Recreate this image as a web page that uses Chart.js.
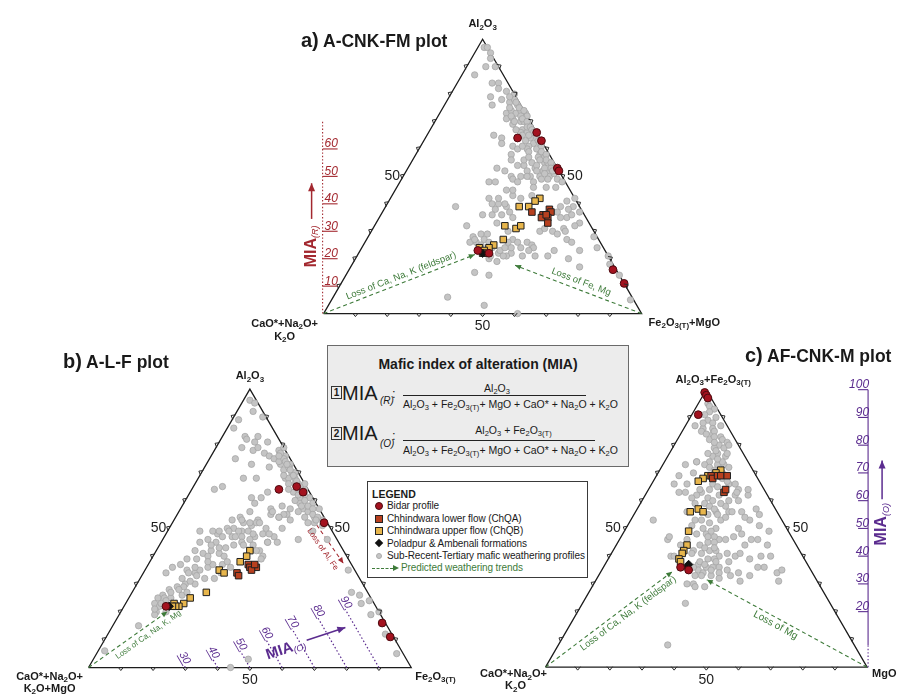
<!DOCTYPE html>
<html>
<head>
<meta charset="utf-8">
<title>Mafic index of alteration – ternary diagrams</title>
<script src="https://cdn.jsdelivr.net/npm/chart.js@4.4.1/dist/chart.umd.min.js"></script>
<style>
  html, body { margin: 0; padding: 0; background: #fff; }
  #page { position: relative; width: 903px; height: 700px; overflow: hidden;
          font-family: "Liberation Sans", Arial, Helvetica, sans-serif; color: #1a1a1a; }
  canvas.plot { position: absolute; left: 0; top: 0; z-index: 1; }
  .title { position: absolute; z-index: 2; font-weight: bold; font-size: 17.5px; line-height: 20px; white-space: nowrap; }
  .title .tag { font-size: 20px; }
  sub { font-size: 72%; vertical-align: -0.28em; line-height: 0; }
  #miaBox { position: absolute; z-index: 2; left: 327px; top: 345px; width: 302px; height: 122px;
            background: #ececec; border: 1px solid #6a6a6a; box-sizing: border-box; }
  #miaBox div, #miaBox span { position: absolute; white-space: nowrap; }
  #miaBox .mt { left: 0; width: 100%; top: 9px; text-align: center; font-weight: bold; font-size: 14px; line-height: 18px; }
  #miaBox .nb { left: 3px; width: 9px; height: 11px; border: 1px solid #333; font-size: 10px; line-height: 11px;
                text-align: center; font-weight: bold; }
  #miaBox .mia { left: 14px; font-size: 20px; line-height: 22px; }
  #miaBox .sb { left: 52px; font-size: 10px; line-height: 12px; font-style: italic; }
  #miaBox .colon { left: 64px; font-size: 13px; line-height: 14px; }
  #miaBox .num { text-align: center; font-size: 10.5px; line-height: 12px; }
  #miaBox .bar { left: 75px; height: 1px; background: #222; }
  #miaBox .den { left: 75px; font-size: 10.5px; line-height: 12px; }
  #legend { position: absolute; z-index: 2; left: 367px; top: 481px; width: 221px; height: 97px;
            background: #fff; border: 1px solid #3a3a3a; box-sizing: border-box; }
  #legend div, #legend span { position: absolute; white-space: nowrap; }
  #legend .lt { left: 4px; top: 6px; font-weight: bold; font-size: 10.5px; line-height: 12px; }
  #legend .li { left: 19px; font-size: 10px; line-height: 12px; letter-spacing: -0.1px; }
  #legend .mk { box-sizing: border-box; }
</style>
</head>
<body>
<div id="page">
  <canvas id="plotA" class="plot" width="903" height="700"></canvas>
  <canvas id="plotB" class="plot" width="903" height="700"></canvas>
  <canvas id="plotC" class="plot" width="903" height="700"></canvas>

  <div class="title" style="left:301px; top:30px"><span class="tag">a)</span> A-CNK-FM plot</div>
  <div class="title" style="left:63px; top:351px"><span class="tag">b)</span> A-L-F plot</div>
  <div class="title" style="left:745px; top:345px"><span class="tag">c)</span> AF-CNK-M plot</div>

  <div id="miaBox">
    <div class="mt">Mafic index of alteration (MIA)</div>
    <div class="nb" style="top:40px">1</div>
    <div class="mia" style="top:36px">MIA</div>
    <div class="sb" style="top:49px">(R)</div>
    <div class="colon" style="top:41px">:</div>
    <div class="num" style="left:75px; width:188px; top:36px">Al<sub>2</sub>O<sub>3</sub></div>
    <div class="bar" style="top:49px; width:183px"></div>
    <div class="den" style="top:52px">Al<sub>2</sub>O<sub>3</sub> + Fe<sub>2</sub>O<sub>3(T)</sub>+ MgO + CaO* + Na<sub>2</sub>O + K<sub>2</sub>O</div>
    <div class="nb" style="top:81px">2</div>
    <div class="mia" style="top:76px">MIA</div>
    <div class="sb" style="top:92px">(O)</div>
    <div class="colon" style="top:83px">:</div>
    <div class="num" style="left:75px; width:221px; top:78px">Al<sub>2</sub>O<sub>3</sub> + Fe<sub>2</sub>O<sub>3(T)</sub></div>
    <div class="bar" style="top:94px; width:192px"></div>
    <div class="den" style="top:98px">Al<sub>2</sub>O<sub>3</sub> + Fe<sub>2</sub>O<sub>3(T)</sub>+ MgO + CaO* + Na<sub>2</sub>O + K<sub>2</sub>O</div>
  </div>

  <div id="legend">
    <div class="lt">LEGEND</div>
    <span class="mk" style="left:7px; top:20px; width:8px; height:8px; border-radius:50%; background:#a3121f; border:1px solid #4d0a10"></span>
    <div class="li" style="top:18px">Bidar profile</div>
    <span class="mk" style="left:7px; top:33px; width:8px; height:8px; background:#b8401f; border:1px solid #222"></span>
    <div class="li" style="top:31px">Chhindwara lower flow (ChQA)</div>
    <span class="mk" style="left:7px; top:45px; width:8px; height:8px; background:#e8b64c; border:1px solid #222"></span>
    <div class="li" style="top:43px">Chhindwara upper flow (ChQB)</div>
    <span class="mk" style="left:8px; top:58px; width:6px; height:6px; background:#111; transform:rotate(45deg)"></span>
    <div class="li" style="top:56px">Poladpur &amp; Ambenali formations</div>
    <span class="mk" style="left:8px; top:71px; width:6px; height:6px; border-radius:50%; background:#c6c6c6; border:1px solid #ababab"></span>
    <div class="li" style="top:68px">Sub-Recent-Tertiary mafic weathering profiles</div>
    <span class="mk" style="left:4px; top:86px; width:21px; height:0; border-top:1.2px dashed #3e7b3a"></span>
    <span class="mk" style="left:25px; top:83px; width:0; height:0; border-left:6px solid #3e7b3a; border-top:3px solid transparent; border-bottom:3px solid transparent"></span>
    <div class="li" style="left:33px; top:80px; color:#3e7b3a">Predicted weathering trends</div>
  </div>
</div>

<script>
// ---------------------------------------------------------------------------
// Compositions, all in molar %. Each point is [top apex component, right apex component];
// the left apex component is the remainder to 100.
// ---------------------------------------------------------------------------

// a) A-CNK-FM : [Al2O3, Fe2O3(T)+MgO]
const acnkGrey = [
  [97,2],[97,3],[95,5],[93,6],[90,6],[87,4],[90,9],[84,11],[84,13],[82,14],[79,13],[81,17],[78,17],[76,15],
  [80,20],[77,20],[78,21],[76,23],[73,21],[74,22],[73,24],[74,25],[73,27],[72,26],[71,24],[70,27],[70,28],
  [69,30],[67,29],[69,25],[65,21],[64,24],[66,29],[66,31],[64,33],[62,35],[61,34],[60,34],[60,37],[58,39],
  [57,39],[57,41],[55,42],[55,43],[54,45],[61,29],[60,31],[58,30],[56,31],[53,28],[54,36],[52,38],[53,40],
  [52,43],[51,45],[50,34],[50,37],[50,40],[50,43],[50,46],[48,28],[48,30],[49,35],[48,37],[50,39],[48,42],
  [49,44],[49,46],[51,47],[49,49],[48,51],[46,43],[46,47],[46,50],[45,35],[43,38],[42,41],[43,44],[42,31],
  [40,33],[40,35],[38,35],[39,38],[37,40],[36,38],[36,35],[36,32],[35,42],[39,22],[32,29],[29,35],[29,37],
  [26,35],[26,33],[33,38],[30,43],[27,46],[26,48],[26,51],[25,53],[24,54],[21,56],[21,52],[22,48],[21,47],
  [22,44],[19,45],[20,42],[23,44],[24,47],[30,53],[31,54],[30,57],[29,59],[31,60],[30,61],[35,59],[35,57],
  [37,55],[39,55],[41,56],[39,59],[42,58],[38,58],[36,60],[37,62],[33,64],[32,63],[27,63],[26,65],[23,69],
  [23,61],[21,60],[20,67],[17,72],[28,71],[24,74],[21,79],[18,81],[14,86],[5,94],[15,40],[14,45],[6,36],
  [3,49],[0,61],[28,33],[27,34],[27,37],[25,37],[26,39],[24,41],[24,45],[21,46],[21,42],[26,45],[24,50],
  [23,53],[42,34],[40,37],[45,37],[52,31],[54,34],[56,35],[62,25],[71,22],
  [79,19],[77,22],[75,24],[74,26],[72,28],[71,27],[70,29],[68,30],[68,31],[67,32],[66,33],[65,32],[64,35],
  [63,36],[62,37],[61,38],[59,39],[58,41],[56,42],[56,40],[55,44],[53,45],[53,43],[52,46],[51,44],[72,23],
  [75,21],[70,25],[67,27],[65,30],[63,32],[61,32],[59,35],[57,36],[55,38],[54,40],[52,41]
];
const acnkBidar = [[64,29],[66,34],[63,37],[53,47],[52,48],[16,83],[11,89],[23,37],[22,41]];
const acnkChQA = [[37,47],[36,51],[36,52],[38,52],[37,53],[35,53],[33,54],[35,51],[36,52]];
const acnkChQB = [[42,47],[41,46],[39,42],[39,45],[32,41],[31,45],[32,46],[27,43],[25,41],[24,40],[24,37],[23,39],[22,40],[22,39]];
const acnkPoladpur = [[22,39]];

// b) A-L-F : [Al2O3, Fe2O3(T)]
const alfGrey = [
  [96,2],[95,4],[92,5],[90,9],[89,2],[86,2],[83,7],[82,8],[81,11],[83,11],[81,15],[79,8],[78,12],[79,13],
  [77,16],[76,18],[75,8],[73,14],[72,20],[68,14],[68,18],[65,9],[64,7],[78,20],[79,21],[76,23],[75,20],
  [73,23],[71,25],[73,26],[70,28],[68,27],[68,30],[66,32],[63,32],[64,35],[61,35],[61,38],[59,40],[57,38],
  [57,43],[54,43],[53,46],[57,34],[55,34],[55,33],[54,32],[55,29],[61,23],[61,20],[63,24],[59,22],[56,22],
  [54,20],[53,18],[52,22],[51,25],[53,26],[50,30],[57,28],[49,23],[48,16],[49,10],[74,22],[75,23],[68,28],
  [63,34],[66,34],[70,29],[66,31],[62,36],[59,36],[56,40],[52,44],[54,40],[52,42],[49,14],[49,16],[50,18],
  [50,20],[49,22],[47,24],[49,25],[47,28],[52,26],[48,30],[47,21],[47,18],[45,17],[46,14],[45,12],[42,12],
  [41,15],[42,17],[41,20],[43,21],[44,23],[45,25],[44,29],[42,32],[40,34],[45,33],[47,34],[45,36],[50,35],
  [53,36],[39,14],[39,11],[37,10],[36,8],[35,13],[34,16],[35,17],[36,19],[37,20],[37,23],[36,26],[34,24],
  [32,23],[32,20],[30,18],[30,15],[32,13],[29,13],[28,11],[26,10],[25,9],[23,9],[22,11],[25,13],[26,16],
  [27,17],[20,14],[20,11],[19,11],[34,7],[46,42],[49,45],[46,51],[35,63],[27,68],[26,71],[23,73],[19,78],
  [20,80],[12,86],[5,93],[15,8],[6,2],[0,44],[3,48],[53,21],[52,24],[52,27],[48,32],[45,33],[42,31],
  [39,34],[47,22],[49,19],[56,29],[58,31],[54,32],[24,75],
  [77,21],[74,24],[72,26],[71,27],[69,29],[67,31],[65,33],[64,33],[62,34],[60,37],[58,39],[57,41],[55,42],
  [54,44],[53,44],[51,47],[76,21],[73,25],[69,26],[66,29],[64,30],[60,34],[58,37],[56,37],
  [44,16],[43,19],[40,17],[38,18],[36,15],[34,14],[33,17],[31,16],[29,15],[28,14],[27,12],[25,11],[24,12],
  [23,11],[21,10],[40,22],[38,24],[46,27],[44,26],[48,27]
];
const alfBidar = [[64,27],[65,32],[63,35],[52,47],[16,83],[11,88],[22,13]];
const alfChQA = [[34,29],[33,30],[37,31],[36,32],[36,34],[35,33],[37,33]];
const alfChQB = [[42,29],[40,29],[38,28],[35,23],[34,25],[27,23],[25,19],[23,18],[22,17],[23,15],[22,16],[22,15]];
const alfPoladpur = [[22,14]];

// c) AF-CNK-M : [Al2O3+Fe2O3(T), MgO]
const afmGrey = [
  [95,3],[94,4],[93,6],[89,6],[90,8],[88,8],[87,11],[86,6],[84,10],[83,13],[82,14],[81,16],[80,14],[77,15],
  [79,16],[76,18],[76,14],[77,12],[74,14],[73,13],[73,17],[73,19],[72,21],[66,24],[66,26],[66,19],[64,19],
  [63,17],[62,16],[62,23],[62,28],[73,7],[74,10],[70,11],[66,7],[66,11],[63,12],[56,29],[58,27],[59,25],
  [56,25],[55,23],[53,22],[53,20],[51,20],[50,28],[53,28],[60,27],[64,28],[62,32],[56,33],[53,37],[50,35],
  [48,37],[55,39],[51,41],[49,45],[46,43],[44,47],[46,41],[44,40],[47,35],[46,33],[46,31],[47,29],[48,26],
  [48,23],[45,28],[44,26],[42,25],[41,28],[42,30],[42,32],[40,34],[41,36],[40,39],[41,40],[39,44],[40,47],
  [36,50],[34,55],[31,57],[34,43],[35,39],[36,36],[39,33],[39,31],[37,29],[35,30],[34,32],[33,35],[33,32],
  [30,31],[30,29],[23,32],[40,19],[46,15],[53,7],[8,34],[36,28],[33,30],[36,32],[36,34],[41,25],[46,21],
  [44,20],[47,15],[40,20],[54,29],[56,30],[59,17],[87,3],[85,6],[84,8],[82,10],[79,13],[77,18],[74,18],
  [74,10],[69,7],[63,10],[61,15],[64,16],[63,28],[64,31],[60,30],[59,20],[56,16],[57,37],[54,35],[40,50],
  [35,56],[36,48],[33,47],[31,45],[33,41],[38,38],[29,32],[29,35],
  [92,5],[91,4],[88,5],[86,9],[85,10],[83,11],[81,12],[80,17],[78,14],[75,16],[72,15],[71,17],[70,20],
  [68,21],[67,23],[65,21],[61,20],[60,22],[58,22],[57,24],[55,26],[52,25],[50,24],[49,27],[47,27],[45,30],
  [43,28],[43,31],[38,29],[37,31],[38,34],[35,34],[34,37],[32,38]
];
const afmBidar = [[99,0],[98,1],[97,2],[91,2],[36,24],[35,27]];
const afmChQA = [[69,17],[68,18],[69,19],[69,20],[69,22],[63,24],[64,24]];
const afmChQB = [[71,19],[70,18],[69,16],[68,15],[67,14],[56,17],[57,19],[56,21],[49,20],[44,22],[42,22],[41,22],[39,22],[38,23]];
const afmPoladpur = [[37,26],[36,26]];

// Axis ticks and MIA scales
const edgeTicks = [10, 20, 30, 40, 50, 60, 70, 80, 90];
const miaRTicks = [10, 20, 30, 40, 50, 60];
const miaOTicks = [20, 30, 40, 50, 60, 70, 80, 90, 100];
const miaOContours = [30, 40, 50, 60, 70, 80, 90];
const miaOContourReach = [1, 3, 6, 10, 14, 18, 21];   // Al2O3 % reached by each dotted contour

// ---------------------------------------------------------------------------
const FONT = '"Liberation Sans", Arial, Helvetica, sans-serif';
const SQ = Math.sqrt(3) / 2;
const W = 903, H = 700;
const GREEN = '#3e7b3a', MAROON = '#a3282f', PURPLE = '#5b2c8f';

// ternary composition -> cartesian (triangle side = 100 units)
const tern = (top, right) => ({ x: right + top / 2, y: top * SQ });
const pts = arr => arr.map(([t, r]) => tern(t, r));

function richParts(str) {
  return str.split(/(\{[^}]*\})/).filter(s => s.length)
    .map(s => s[0] === '{' ? { t: s.slice(1, -1), sub: true } : { t: s, sub: false });
}
function drawRich(ctx, str, x, y, o) {
  const size = o.size || 11;
  const mainFont = `${o.italic ? 'italic ' : ''}${o.bold ? 'bold ' : ''}${size}px ${FONT}`;
  const subFont = o.subFont || `${o.bold ? 'bold ' : ''}${Math.round(size * 0.72)}px ${FONT}`;
  const parts = richParts(str);
  let w = 0;
  parts.forEach(p => { ctx.font = p.sub ? subFont : mainFont; p.w = ctx.measureText(p.t).width; w += p.w; });
  let cx = o.align === 'center' ? x - w / 2 : o.align === 'right' ? x - w : x;
  ctx.fillStyle = o.color || '#1a1a1a';
  ctx.textAlign = 'left';
  ctx.textBaseline = 'middle';
  parts.forEach(p => {
    ctx.font = p.sub ? subFont : mainFont;
    ctx.fillText(p.t, cx, y + (p.sub ? (o.subDrop != null ? o.subDrop : size * 0.32) : 0));
    cx += p.w;
  });
}
function arrowHead(ctx, a, b, color, len, half) {
  const ang = Math.atan2(b.y - a.y, b.x - a.x);
  const c = Math.cos(ang), s = Math.sin(ang);
  ctx.fillStyle = color;
  ctx.beginPath();
  ctx.moveTo(b.x, b.y);
  ctx.lineTo(b.x - len * c + half * s, b.y - len * s - half * c);
  ctx.lineTo(b.x - len * c - half * s, b.y - len * s + half * c);
  ctx.closePath();
  ctx.fill();
}
function arrow(ctx, a, b, color, width) {
  ctx.strokeStyle = color; ctx.lineWidth = width; ctx.setLineDash([]);
  ctx.beginPath(); ctx.moveTo(a.x, a.y); ctx.lineTo(b.x, b.y); ctx.stroke();
  arrowHead(ctx, a, b, color, 8, 3.5);
}

function decorPlugin(cfg) {
  return {
    id: 'ternaryDecor',
    afterDatasetsDraw(chart) {
      const ctx = chart.ctx, sx = chart.scales.x, sy = chart.scales.y;
      const P = (t, r) => { const q = tern(t, r); return { x: sx.getPixelForValue(q.x), y: sy.getPixelForValue(q.y) }; };
      ctx.save();

      // chevron ticks on the three edges
      ctx.strokeStyle = '#2a2a2a'; ctx.lineWidth = 1; ctx.setLineDash([]);
      edgeTicks.forEach(v => {
        [[P(0, v), 0, 1], [P(v, 0), -SQ, -0.5], [P(v, 100 - v), SQ, -0.5]].forEach(([p, nx, ny]) => {
          const tx = -ny, ty = nx;
          ctx.beginPath();
          ctx.moveTo(p.x + tx * 2.8 - nx * 0.5, p.y + ty * 2.8 - ny * 0.5);
          ctx.lineTo(p.x + nx * 3, p.y + ny * 3);
          ctx.lineTo(p.x - tx * 2.8 - nx * 0.5, p.y - ty * 2.8 - ny * 0.5);
          ctx.stroke();
        });
      });

      // 50 % labels
      ctx.fillStyle = '#1e1e1e'; ctx.font = `14px ${FONT}`; ctx.textBaseline = 'middle';
      const mL = P(50, 0), mR = P(50, 50), mB = P(0, 50);
      ctx.textAlign = 'right'; ctx.fillText('50', mL.x - cfg.fifty[0], mL.y);
      ctx.textAlign = 'left'; ctx.fillText('50', mR.x + cfg.fifty[1], mR.y);
      ctx.textAlign = 'center'; ctx.fillText('50', mB.x, mB.y + 13);

      // apex labels
      const corner = { top: P(100, 0), left: P(0, 0), right: P(0, 100) };
      cfg.corners.forEach(c => {
        const p = corner[c.at];
        drawRich(ctx, c.text, p.x + c.dx, p.y + c.dy, { size: 11, bold: true, align: c.align });
      });

      // predicted weathering trends: arrow heads and captions
      cfg.trends.forEach(tr => {
        const a = P(tr.from[0], tr.from[1]), b = P(tr.to[0], tr.to[1]);
        arrowHead(ctx, a, b, tr.color, 6, 2.6);
        let ang = Math.atan2(b.y - a.y, b.x - a.x);
        if (ang > Math.PI / 2) ang -= Math.PI;
        if (ang < -Math.PI / 2) ang += Math.PI;
        const cx = a.x + (b.x - a.x) * tr.at, cy = a.y + (b.y - a.y) * tr.at;
        ctx.save();
        ctx.translate(cx, cy); ctx.rotate(ang);
        ctx.font = `${tr.size}px ${FONT}`; ctx.fillStyle = tr.color;
        ctx.textAlign = 'center'; ctx.textBaseline = 'middle';
        ctx.fillText(tr.text, 0, tr.offset);
        ctx.restore();
      });

      // MIA(O) contour labels (A-L-F)
      if (cfg.contours) {
        miaOContours.forEach((m, i) => {
          const t = miaOContourReach[i] + 2.4;
          const p = P(t, m - t + 1.5);
          ctx.save();
          ctx.translate(p.x, p.y); ctx.rotate(Math.PI / 3);
          ctx.font = `italic 11px ${FONT}`; ctx.fillStyle = PURPLE;
          ctx.textAlign = 'center'; ctx.textBaseline = 'middle';
          ctx.fillText(String(m), 0, 0);
          const w = ctx.measureText(String(m)).width;
          ctx.fillRect(-w / 2, 5, w, 0.8);
          ctx.restore();
        });
        const a = P(cfg.miaArrow.from[0], cfg.miaArrow.from[1]), b = P(cfg.miaArrow.to[0], cfg.miaArrow.to[1]);
        arrow(ctx, a, b, PURPLE, 1.6);
        const ang = Math.atan2(b.y - a.y, b.x - a.x);
        ctx.save();
        ctx.translate(a.x - 22 * Math.cos(ang), a.y - 22 * Math.sin(ang) + 2);
        ctx.rotate(ang);
        drawRich(ctx, 'MIA{(O)}', 0, 0, { size: 15, bold: true, color: PURPLE, align: 'center',
                 subFont: `italic 9px ${FONT}`, subDrop: 4 });
        ctx.restore();
      }

      // vertical MIA scale tied to the top-apex component
      if (cfg.miaAxis) {
        const m = cfg.miaAxis;
        const base = corner[m.corner];
        const ax = base.x + m.dx;
        const yAt = v => P(v, 0).y;
        ctx.strokeStyle = m.color; ctx.lineWidth = 1.1;
        ctx.setLineDash([1.4, 2]);
        ctx.beginPath(); ctx.moveTo(ax, yAt(0)); ctx.lineTo(ax, yAt(m.solidFrom != null ? m.solidFrom : m.top)); ctx.stroke();
        ctx.setLineDash([]);
        if (m.solidFrom != null) {
          ctx.beginPath(); ctx.moveTo(ax, yAt(m.solidFrom)); ctx.lineTo(ax, yAt(m.top)); ctx.stroke();
        }
        m.ticks.forEach(v => {
          const yy = yAt(v);
          ctx.beginPath(); ctx.moveTo(ax, yy); ctx.lineTo(ax + m.dir * m.tickLen, yy); ctx.stroke();
          ctx.font = `italic 12px ${FONT}`; ctx.fillStyle = m.color; ctx.textBaseline = 'alphabetic';
          ctx.textAlign = m.dir > 0 ? 'left' : 'right';
          ctx.fillText(String(v), ax + (m.dir > 0 ? 2 : 1), yy - 1.5);
        });
        const lx = ax + m.labelDx;
        ctx.save();
        ctx.translate(lx, yAt(m.labelAt)); ctx.rotate(-Math.PI / 2);
        drawRich(ctx, m.label, 0, 0, { size: 16, bold: true, color: m.color, align: 'center',
                 subFont: `italic 9px ${FONT}`, subDrop: 4 });
        ctx.restore();
        arrow(ctx, { x: lx, y: yAt(m.arrow[0]) }, { x: lx, y: yAt(m.arrow[1]) }, m.color, 1.5);
      }
      ctx.restore();
    }
  };
}

function buildPlot(canvasId, geom, series, cfg) {
  const s = geom.side / 100;
  const datasets = [
    { data: [tern(0, 0), tern(0, 100), tern(100, 0), tern(0, 0)], showLine: true, borderColor: '#1c1c1c',
      borderWidth: 1.3, pointRadius: 0, order: 30 },
    { data: pts(series.grey), pointRadius: 3.2, pointBackgroundColor: '#c4c4c4', pointBorderColor: '#a2a2a2',
      pointBorderWidth: 0.7, order: 10 },
    { data: pts(series.chqb), pointStyle: 'rect', pointRadius: 4.6, pointBackgroundColor: '#e8b64c',
      pointBorderColor: '#1f1f1f', pointBorderWidth: 1, order: 5 },
    { data: pts(series.chqa), pointStyle: 'rect', pointRadius: 4.6, pointBackgroundColor: '#b8401f',
      pointBorderColor: '#1f1f1f', pointBorderWidth: 1, order: 4 },
    { data: pts(series.poladpur), pointStyle: 'rectRot', pointRadius: 4.2, pointBackgroundColor: '#111',
      pointBorderColor: '#111', pointBorderWidth: 1, order: 3 },
    { data: pts(series.bidar), pointRadius: 3.9, pointBackgroundColor: '#a3121f', pointBorderColor: '#4d0a10',
      pointBorderWidth: 1, order: 1 }
  ];
  cfg.trends.forEach(tr => datasets.push({
    data: [tern(tr.from[0], tr.from[1]), tern(tr.to[0], tr.to[1])], showLine: true, borderColor: tr.color,
    borderWidth: 1.1, borderDash: [4, 3], pointRadius: 0, order: 20
  }));
  if (cfg.contours) {
    miaOContours.forEach((m, i) => datasets.push({
      data: [tern(0, m), tern(miaOContourReach[i], m - miaOContourReach[i])], showLine: true,
      borderColor: PURPLE, borderWidth: 1.2, borderDash: [1.5, 2.2], pointRadius: 0, order: 22
    }));
  }
  return new Chart(document.getElementById(canvasId), {
    type: 'scatter',
    data: { datasets },
    options: {
      responsive: false, animation: false, events: [], devicePixelRatio: 1,
      layout: { padding: 0 },
      plugins: { legend: { display: false }, tooltip: { enabled: false } },
      scales: {
        x: { type: 'linear', display: false, min: -geom.left / s, max: (W - geom.left) / s },
        y: { type: 'linear', display: false, min: -(H - geom.base) / s, max: geom.base / s }
      }
    },
    plugins: [decorPlugin(cfg)]
  });
}

// a) A-CNK-FM
buildPlot('plotA', { left: 322, base: 313, side: 322 },
  { grey: acnkGrey, bidar: acnkBidar, chqa: acnkChQA, chqb: acnkChQB, poladpur: acnkPoladpur },
  {
    fifty: [3, 5],
    corners: [
      { at: 'top', text: 'Al{2}O{3}', dx: 0, dy: -15, align: 'center' },
      { at: 'left', text: 'CaO*+Na{2}O+', dx: -39, dy: 10, align: 'center' },
      { at: 'left', text: 'K{2}O', dx: -39, dy: 23, align: 'center' },
      { at: 'right', text: 'Fe{2}O{3(T)}+MgO', dx: 7, dy: 9, align: 'left' }
    ],
    trends: [
      { from: [0, 0], to: [21.5, 36.8], color: GREEN, text: 'Loss of Ca, Na, K (feldspar)', size: 9.5, at: 0.53, offset: -7 },
      { from: [0, 100], to: [17.6, 51.4], color: GREEN, text: 'Loss of Fe, Mg', size: 9.5, at: 0.5, offset: -8 }
    ],
    miaAxis: { corner: 'left', dx: -1, top: 70, ticks: miaRTicks, dir: 1, tickLen: 15, color: MAROON,
               label: 'MIA{(R)}', labelDx: -11, labelAt: 24.5, arrow: [34.5, 47.5] }
  });

// b) A-L-F
buildPlot('plotB', { left: 84, base: 672.7, side: 326.7 },
  { grey: alfGrey, bidar: alfBidar, chqa: alfChQA, chqb: alfChQB, poladpur: alfPoladpur },
  {
    fifty: [3, 4],
    corners: [
      { at: 'top', text: 'Al{2}O{3}', dx: 0, dy: -13, align: 'center' },
      { at: 'left', text: 'CaO*+Na{2}O+', dx: -39, dy: 9, align: 'center' },
      { at: 'left', text: 'K{2}O+MgO', dx: -39, dy: 21, align: 'center' },
      { at: 'right', text: 'Fe{2}O{3(T)}', dx: 4, dy: 9, align: 'left' }
    ],
    trends: [
      { from: [0, 0], to: [20.1, 14.4], color: GREEN, text: 'Loss of Ca, Na, K, Mg', size: 8, at: 0.7, offset: 8 },
      { from: [51.2, 45.1], to: [37.4, 60.3], color: MAROON, text: 'Loss of Al, Fe', size: 8, at: 0.5, offset: 9 }
    ],
    contours: true,
    miaArrow: { from: [9.8, 62.7], to: [14.4, 72.4] }
  });

// c) AF-CNK-M
buildPlot('plotC', { left: 546.7, base: 672.3, side: 325.6 },
  { grey: afmGrey, bidar: afmBidar, chqa: afmChQA, chqb: afmChQB, poladpur: afmPoladpur },
  {
    fifty: [5, 6],
    corners: [
      { at: 'top', text: 'Al{2}O{3}+Fe{2}O{3(T)}', dx: 7, dy: -10, align: 'center' },
      { at: 'left', text: 'CaO*+Na{2}O+', dx: -32, dy: 7, align: 'center' },
      { at: 'left', text: 'K{2}O', dx: -30, dy: 19, align: 'center' },
      { at: 'right', text: 'MgO', dx: 5, dy: 7, align: 'left' }
    ],
    trends: [
      { from: [0, 0], to: [34.4, 22.2], color: GREEN, text: 'Loss of Ca, Na, K (feldspar)', size: 9.5, at: 0.62, offset: 7 },
      { from: [0, 100], to: [31.5, 34.4], color: GREEN, text: 'Loss of Mg', size: 10, at: 0.55, offset: 7 }
    ],
    miaAxis: { corner: 'right', dx: 1, top: 100, solidFrom: 8, ticks: miaOTicks, dir: -1, tickLen: 10, color: PURPLE,
               label: 'MIA{(O)}', labelDx: 14, labelAt: 51.5, arrow: [60.5, 74.5] }
  });
</script>
</body>
</html>
